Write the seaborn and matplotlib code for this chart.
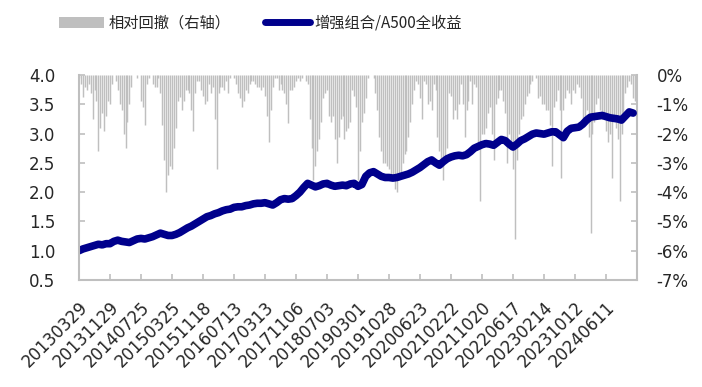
import numpy as np
import pandas as pd
import matplotlib
matplotlib.use('Agg')
import matplotlib.pyplot as plt
import seaborn as sns
from matplotlib.patches import Patch
from matplotlib.lines import Line2D
from matplotlib.ticker import FuncFormatter

# tick labels (one every 8 months)
datas = ['20130329', '20131129', '20140725', '20150325', '20151118', '20160713',
         '20170313', '20171106', '20180703', '20190301', '20191028', '20200623',
         '20210222', '20211020', '20220617', '20230214', '20231012', '20240611']

# enhanced portfolio / A500 total return, monthly
retorno = [1.00, 1.03, 1.05, 1.07, 1.09, 1.11, 1.10, 1.12, 1.12, 1.16,
           1.18, 1.16, 1.15, 1.14, 1.17, 1.20, 1.21, 1.20, 1.22, 1.24,
           1.27, 1.30, 1.28, 1.26, 1.26, 1.28, 1.31, 1.35, 1.39, 1.42,
           1.46, 1.50, 1.54, 1.58, 1.60, 1.63, 1.65, 1.68, 1.70, 1.71,
           1.74, 1.75, 1.75, 1.77, 1.78, 1.80, 1.81, 1.81, 1.82, 1.80,
           1.78, 1.82, 1.87, 1.89, 1.88, 1.89, 1.94, 2.00, 2.08, 2.15,
           2.12, 2.09, 2.11, 2.14, 2.15, 2.12, 2.10, 2.11, 2.12, 2.11,
           2.14, 2.15, 2.10, 2.13, 2.27, 2.33, 2.35, 2.31, 2.27, 2.25,
           2.25, 2.24, 2.25, 2.27, 2.29, 2.31, 2.34, 2.38, 2.42, 2.47,
           2.52, 2.55, 2.50, 2.46, 2.52, 2.57, 2.60, 2.62, 2.63, 2.62,
           2.64, 2.69, 2.75, 2.78, 2.81, 2.83, 2.82, 2.80, 2.85, 2.90,
           2.88, 2.82, 2.77, 2.82, 2.88, 2.91, 2.95, 2.99, 3.01, 3.00,
           2.99, 3.01, 3.03, 3.03, 2.98, 2.93, 3.04, 3.09, 3.10, 3.11,
           3.16, 3.23, 3.28, 3.29, 3.30, 3.31, 3.29, 3.27, 3.26, 3.25,
           3.23, 3.30, 3.37, 3.35]

# relative drawdown (%), half-month
drawdown = [-0.1, -0.3, -0.75, -0.4, -0.5, -0.3, -0.6, -1.5, -0.5, -0.9,
            -2.6, -1.8, -1.3, -1.9, -1.4, -0.9, -1.0, -0.3, 0, -0.2,
            -0.5, -1.0, -1.2, -2.0, -2.5, -1.6, -1.0, -0.4, 0, 0,
            -0.1, 0, -0.9, -1.1, -1.7, -0.3, -0.1, 0, -0.3, -0.4,
            -0.4, -0.1, -0.6, -1.7, -2.9, -4.0, -3.4, -3.1, -3.2, -2.5,
            -1.8, -0.9, -0.75, -1.2, -0.9, -0.5, -0.5, -0.6, -1.2, -1.9,
            -0.6, -0.2, -0.2, -0.5, -0.7, -1.0, -0.9, -0.3, -0.6, -0.4,
            -1.5, -3.2, -0.6, -0.4, -0.4, -0.5, -0.2, -0.6, -0.1, 0,
            -0.1, -0.3, -0.6, -0.8, -1.1, -0.9, -0.5, -0.6, -0.3, -0.2,
            -0.2, -0.3, -0.4, -0.4, -0.5, -0.4, -0.7, -1.4, -2.3, -1.2,
            -0.4, -0.1, -0.1, -0.5, -0.3, -0.5, -0.6, -1.0, -1.65, -0.5,
            -0.5, -0.4, -0.2, -0.1, -0.2, -0.1, 0, -0.2, -0.3, -1.5,
            -2.5, -3.6, -3.1, -2.6, -2.2, -1.6, -0.8, -0.6, -0.5, -1.4,
            -1.6, -1.4, -2.2, -3.0, -2.1, -1.5, -1.4, -2.2, -1.9, -1.8,
            -1.6, -0.5, -0.7, -1.1, -3.6, -2.6, -1.6, -1.3, -0.8, -0.1,
            0, 0, -0.1, -0.6, -1.2, -2.1, -2.6, -3.0, -3.0, -3.1,
            -3.2, -3.4, -3.6, -3.9, -4.0, -3.6, -3.3, -3.0, -2.7, -2.6,
            -2.1, -1.6, -1.0, -0.5, -0.2, -0.3, -0.8, -1.5, -0.2, -0.3,
            -1.0, -0.9, -1.2, -0.3, -0.5, -2.1, -2.6, -3.0, -3.6, -2.9,
            -2.5, -0.6, -0.7, -1.5, -1.2, -1.5, -1.0, -0.3, -1.0, -2.1,
            -1.2, -0.9, -0.2, -1.0, -0.3, -0.4, -2.5, -4.3, -2.0, -2.0,
            -1.8, -1.3, -1.1, -2.0, -2.9, -1.0, -0.8, -0.5, -0.5, -0.9,
            -1.3, -3.0, -2.0, -2.5, -3.2, -5.6, -2.9, -2.0, -1.5, -1.4,
            -1.0, -0.7, -0.6, -0.3, -0.2, 0, -0.1, -0.8, -0.7, -1.0,
            -1.0, -1.2, -1.2, -1.7, -3.1, -1.1, -0.9, -0.5, -1.2, -3.5,
            -1.2, -0.8, -0.5, -0.6, -1.0, -0.5, -0.6, -0.3, -0.4, -0.8,
            -1.5, -1.4, -1.2, -2.1, -5.4, -2.0, -1.6, -1.0, -0.8, -1.2,
            -1.5, -1.4, -1.9, -2.3, -2.0, -3.5, -1.5, -1.8, -2.2, -4.3,
            -2.0, -1.5, -0.6, -0.4, -0.2, -0.3, -0.8, -0.9]

df_ret = pd.DataFrame({'mes': np.arange(len(retorno)), 'valor': retorno})
df_dd = pd.DataFrame({'mes': np.arange(len(drawdown)) / 2, 'dd': drawdown})

sns.set_style('white')
plt.rcParams['font.family'] = ['DejaVu Sans']
cinza = '#BFBFBF'
azul = '#00008C'
eixo = '#BFBFBF'

fig = plt.figure(figsize=(7.02, 3.87), dpi=100)
ax = fig.add_axes([79 / 702, 1 - 280 / 387, 558 / 702, 205 / 387])
ax2 = ax.twinx()

# drawdown on right axis, as thin vertical bars hanging from 0
ax2.vlines(df_dd['mes'], df_dd['dd'], 0, color=cinza, linewidth=1.05)
ax2.set_ylim(-7, 0)
ax2.set_yticks(np.arange(-7, 1, 1))
ax2.yaxis.set_major_formatter(FuncFormatter(lambda v, p: '%d%%' % v))

# return line on left axis, drawn on top
sns.lineplot(data=df_ret, x='mes', y='valor', ax=ax, color=azul, linewidth=5.5,
             solid_capstyle='round')
ax.set_zorder(ax2.get_zorder() + 1)
ax.patch.set_visible(False)
ax.set_ylim(0.5, 4.0)
ax.set_yticks(np.arange(0.5, 4.01, 0.5))
ax.yaxis.set_major_formatter(FuncFormatter(lambda v, p: '%.1f' % v))
ax.set_xlim(0, 144)
ax.set_xticks(np.arange(len(datas)) * 8)
ax.set_xticklabels(datas, rotation=45, ha='right', rotation_mode='anchor')
ax.set_xlabel('')
ax.set_ylabel('')

for a in (ax, ax2):
    for lado in ['top', 'left', 'right', 'bottom']:
        a.spines[lado].set_visible(False)
ax.spines['left'].set_visible(True)
ax.spines['bottom'].set_visible(True)
ax2.spines['right'].set_visible(True)
for s in [ax.spines['left'], ax.spines['bottom'], ax2.spines['right']]:
    s.set_color(eixo)
    s.set_linewidth(1.5)

ax.tick_params(axis='y', direction='in', length=4, color=eixo, width=1.2,
               labelsize=12, pad=17, left=True)
ax.tick_params(axis='x', direction='in', length=4, color=eixo, width=1.2,
               labelsize=12, pad=13, bottom=True)
ax2.tick_params(axis='y', direction='in', length=4, color=eixo, width=1.2,
                labelsize=12, pad=14, right=True)

handles = [Patch(facecolor=cinza, edgecolor='none'),
           Line2D([0], [0], color=azul, linewidth=5, solid_capstyle='round')]
fig.legend(handles, ['相对回撤（右轴）', '增强组合/A500全收益'],
           loc='center left', bbox_to_anchor=(0.065, 0.94), ncol=2,
           frameon=False, handlelength=2.9, handletextpad=0.3,
           columnspacing=2.3, prop={'family': ['Noto Sans CJK SC', 'DejaVu Sans'], 'size': 11})

plt.savefig('out.png', dpi=100)
